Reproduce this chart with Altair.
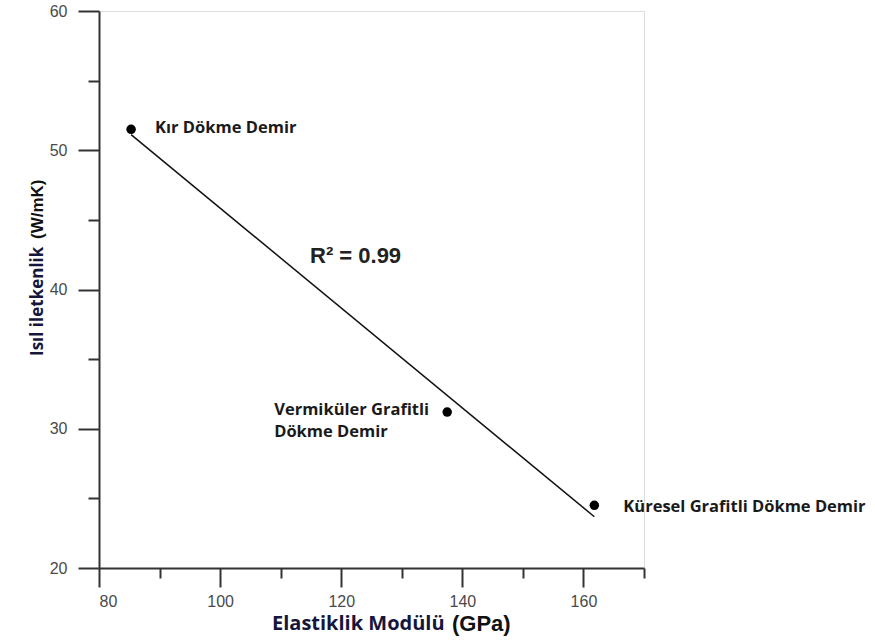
import altair as alt
import numpy as np
import pandas as pd

# Cast iron grades: elastic modulus vs. thermal conductivity
names = ["Kır Dökme Demir", "Vermiküler Grafitli\nDökme Demir", "Küresel Grafitli Dökme Demir"]
modulus = [85.3, 137.5, 161.8]        # GPa
conductivity = [51.5, 31.2, 24.5]     # W/mK

x_major = [80, 100, 120, 140, 160]
x_minor = [90, 110, 130, 150, 170]
y_major = [20, 30, 40, 50, 60]
y_minor = [25, 35, 45, 55]

df = pd.DataFrame({"name": names, "modulus": modulus, "conductivity": conductivity})

# coefficient of determination of the linear fit
r2 = np.corrcoef(modulus, conductivity)[0, 1] ** 2
r2_text = f"R² = {r2:.2f}"

PLOT_W, PLOT_H = 545, 557
label_font = "Open Sans"
navy = "#16163c"
axis_gray = "#333333"

x_scale = alt.Scale(domain=[80, 170], nice=False, zero=False)
y_scale = alt.Scale(domain=[20, 60], nice=False, zero=False)

common_axis = dict(
    grid=False, tickWidth=2, tickColor=axis_gray, domainColor=axis_gray,
    domainWidth=2, title=None,
)


def enc(x_axis, y_axis):
    return dict(
        x=alt.X("modulus:Q", scale=x_scale, axis=x_axis),
        y=alt.Y("conductivity:Q", scale=y_scale, axis=y_axis),
    )


major_x_axis = alt.Axis(
    values=x_major, tickSize=19, labelFont="Liberation Sans", labelFontSize=16,
    labelColor="#4a4a4a", labelPadding=6, orient="bottom", **common_axis,
)
major_y_axis = alt.Axis(
    values=y_major, tickSize=21, labelFont="Liberation Sans", labelFontSize=16,
    labelColor="#4a4a4a", labelPadding=11, orient="left", **common_axis,
)
minor_x_axis = alt.Axis(
    values=x_minor, tickSize=10, labels=False, domain=False, orient="bottom",
    grid=False, tickWidth=2, tickColor=axis_gray, title=None,
)
minor_y_axis = alt.Axis(
    values=y_minor, tickSize=11, labels=False, domain=False, orient="left",
    grid=False, tickWidth=2, tickColor=axis_gray, title=None,
)

base = alt.Chart(df)

points = base.mark_circle(size=90, color="black", opacity=1).encode(
    **enc(major_x_axis, major_y_axis)
)

fit = (
    base.transform_regression("modulus", "conductivity")
    .mark_line(color="#111111", strokeWidth=1.5)
    .encode(**enc(minor_x_axis, minor_y_axis))
)

label_style = dict(font=label_font, fontSize=16.5, fontWeight="bold", color="#1a1a1a")
no_axes = enc(None, None)

label_gray = base.transform_filter(alt.datum.name == names[0]).mark_text(
    align="left", baseline="middle", dx=24, dy=-1, **label_style
).encode(text="name:N", **no_axes)

label_vermicular = base.transform_filter(alt.datum.name == names[1]).mark_text(
    align="left", baseline="top", dx=-173, dy=-10, lineBreak="\n", lineHeight=22, **label_style
).encode(text="name:N", **no_axes)

label_nodular = base.transform_filter(alt.datum.name == names[2]).mark_text(
    align="left", baseline="middle", dx=29, dy=2, **label_style
).encode(text="name:N", **no_axes)

r2_label = alt.Chart(pd.DataFrame({"t": [r2_text]})).mark_text(
    align="left", baseline="middle", font="Liberation Sans", fontSize=22,
    fontWeight="bold", color="#222222"
).encode(text="t:N", x=alt.value(211), y=alt.value(245))

# Axis titles: the quantity name and its unit are set in different faces
titles = pd.DataFrame({
    "part": ["Elastiklik Modülü", "(GPa)", "Isıl iletkenlik", "(W/mK)"],
})


def title_part(i, **style):
    return alt.Chart(titles).transform_filter(
        alt.datum.part == titles["part"][i]
    ).mark_text(**style)


x_title_name = title_part(
    0, align="left", baseline="middle", font=label_font, fontSize=20,
    fontWeight="bold", color=navy,
).encode(text="part:N", x=alt.value(173), y=alt.value(613))

x_title_unit = title_part(
    1, align="left", baseline="middle", font="Liberation Sans", fontSize=22,
    fontWeight="bold", color="#111111",
).encode(text="part:N", x=alt.value(353), y=alt.value(613))

y_title_name = title_part(
    2, align="left", baseline="middle", font=label_font, fontSize=17,
    fontWeight="bold", color=navy, angle=270,
).encode(text="part:N", x=alt.value(-61), y=alt.value(345))

y_title_unit = title_part(
    3, align="left", baseline="middle", font="Liberation Sans", fontSize=17,
    fontWeight="bold", color="#111111", angle=270,
).encode(text="part:N", x=alt.value(-61), y=alt.value(228))

chart = (
    alt.layer(
        points, fit, label_gray, label_vermicular, label_nodular, r2_label,
        x_title_name, x_title_unit, y_title_name, y_title_unit,
    )
    .resolve_axis(x="independent", y="independent")
    .properties(
        width=PLOT_W,
        height=PLOT_H,
        autosize="none",
        padding={"left": 99, "top": 11, "right": 231, "bottom": 75},
    )
    .configure_view(stroke=None)
    .configure(background="white")
)

chart.save("out.html", embed_options={"renderer": "svg", "actions": False})
